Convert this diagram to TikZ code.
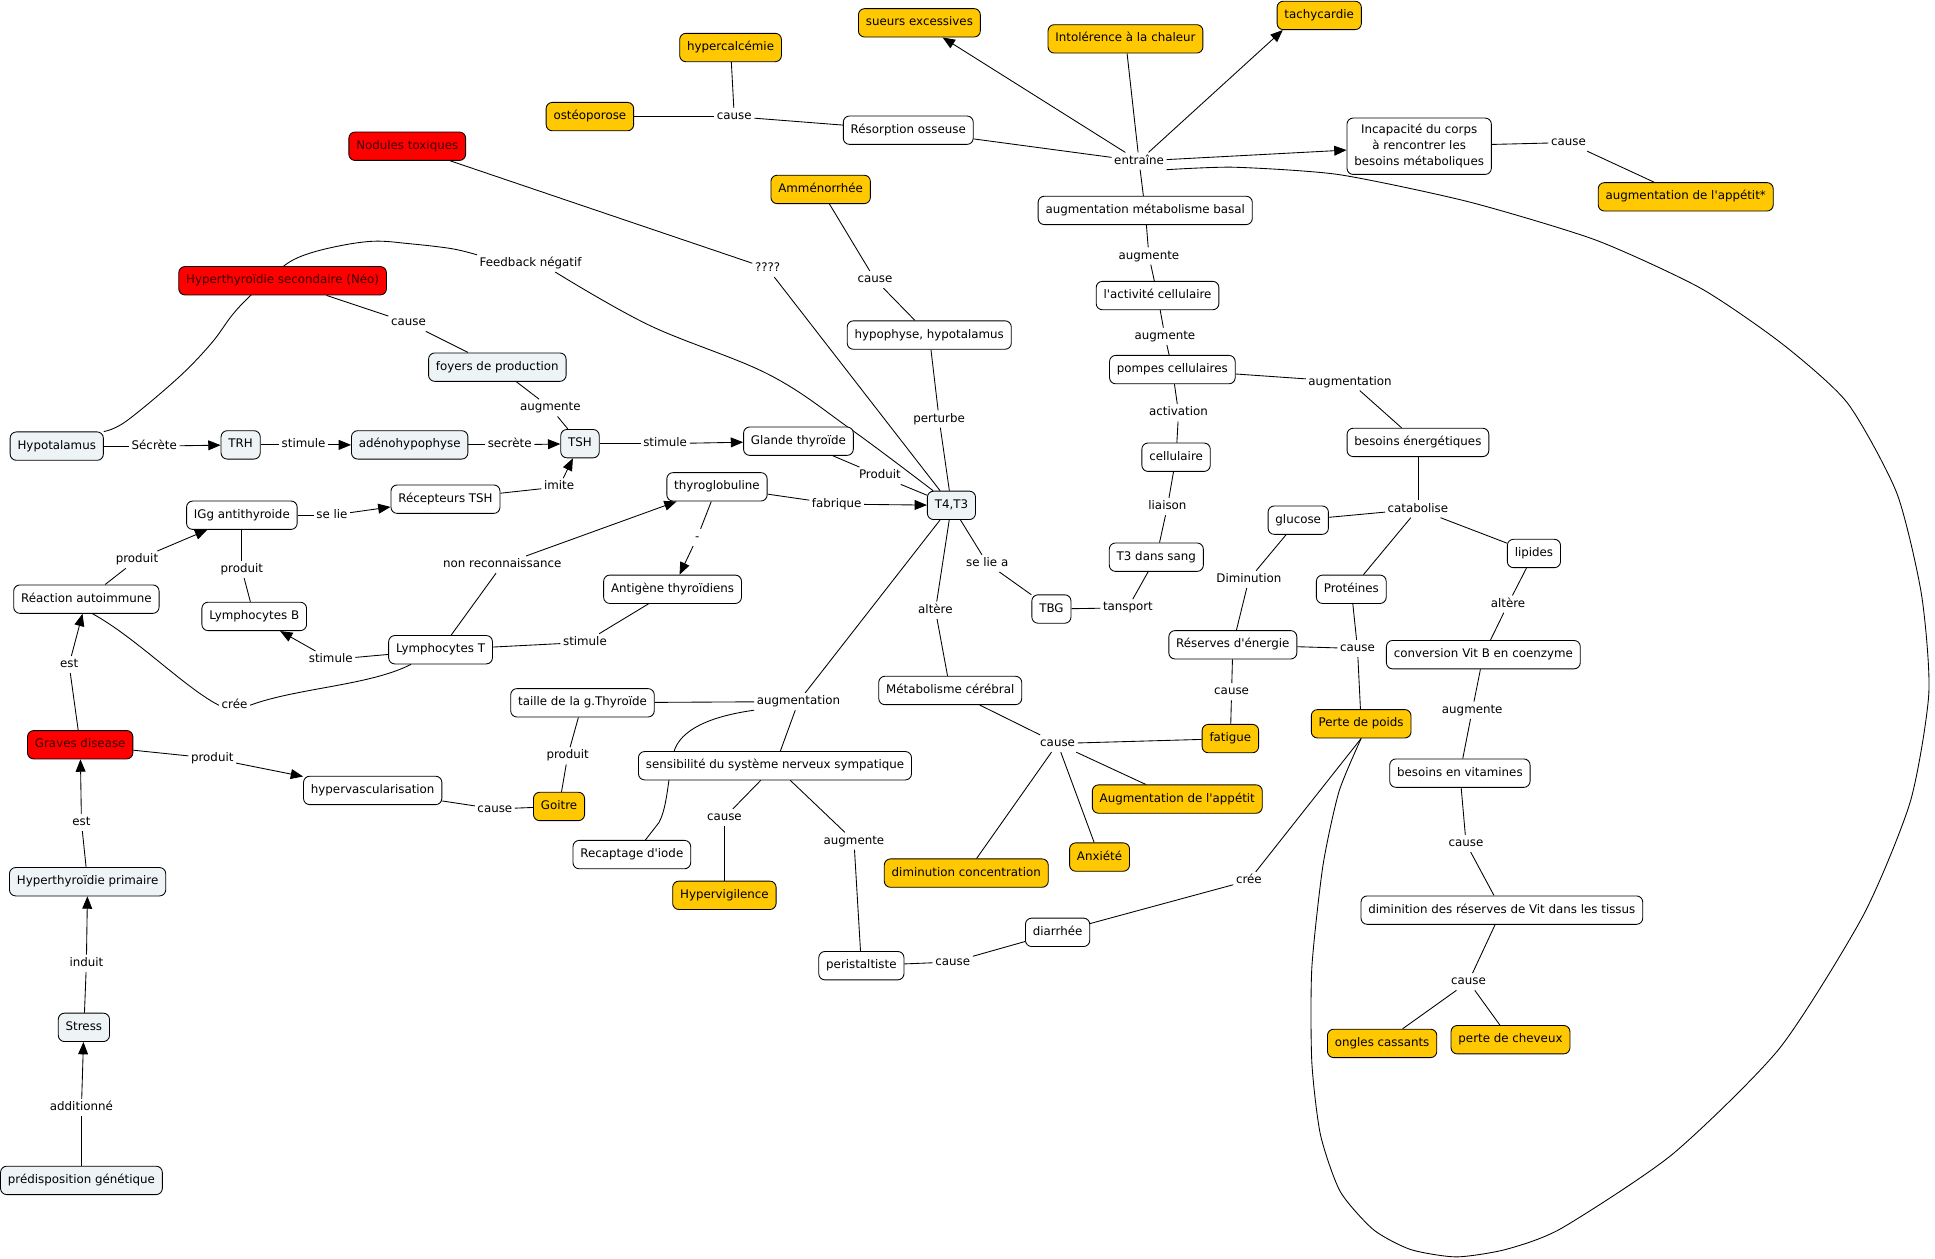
\documentclass[tikz,border=0pt]{standalone}
\usepackage{fontspec}
\setmainfont{DejaVu Sans}
\usetikzlibrary{arrows.meta}
\pgfdeclarelayer{bg}
\pgfsetlayers{bg,main}
\definecolor{lightc}{RGB}{238,244,246}
\definecolor{yel}{RGB}{255,200,0}
\definecolor{redc}{RGB}{255,0,0}
\definecolor{redt}{RGB}{60,0,0}
\newcommand\mapfont{\fontsize{9.6}{13}\selectfont}
\newcommand\ap{\textquotesingle}
\tikzset{
  base/.style={draw, rounded corners=5pt, line width=0.7pt, inner xsep=6pt, inner ysep=5pt, font=\mapfont},
  one/.style={text height=7.3pt, text depth=2.3pt, minimum height=23pt},
  wc/.style={base, one, fill=white},
  lc/.style={base, one, fill=lightc},
  yc/.style={base, one, fill=yel},
  rc/.style={base, one, fill=redc, text=redt},
  lk/.style={inner sep=2pt, font=\mapfont, text height=7.3pt, text depth=2.3pt},
  ln/.style={line width=0.7pt},
  arr/.style={line width=0.7pt, -{Triangle[length=10pt,width=8pt]}}
}
\begin{document}
\begin{tikzpicture}[x=1pt,y=-1pt]
\useasboundingbox (0,-1.5) rectangle (1568,1018.5);
% ---- nodes ----
\node[yc] (sueurs) at (745,17) {sueurs excessives};
\node[yc] (intol) at (912,30) {Intolérence à la chaleur};
\node[yc] (tachy) at (1069,11) {tachycardie};
\node[yc] (hypercal) at (592,37) {hypercalcémie};
\node[yc] (osteo) at (478,93) {ostéoporose};
\node[lk] (lcause1) at (595,93) {cause};
\node[wc] (resorp) at (736,104) {Résorption osseuse};
\node[lk] (lentr) at (923,129) {entraîne};
\node[base, fill=white, align=center] (incap) at (1150,117) {Incapacité du corps\\à rencontrer les\\besoins métaboliques};
\node[lk] (lcause2) at (1271,114) {cause};
\node[yc] (appet1) at (1366,158) {augmentation de l\ap appétit*};
\node[rc] (nodules) at (330,117) {Nodules toxiques};
\node[yc] (amen) at (665,152) {Amménorrhée};
\node[wc] (metab) at (928,169) {augmentation métabolisme basal};
\node[rc] (hsec) at (229,226) {Hyperthyroïdie secondaire (Néo)};
\node[lk] (lfeed) at (430,212) {Feedback négatif};
\node[lk] (lq) at (622,216) {????};
\node[lk] (lcause3) at (709,225) {cause};
\node[lk] (laug1) at (931,206) {augmente};
\node[wc] (activ) at (938,238) {l\ap activité cellulaire};
\node[lk] (lcause4) at (331,260) {cause};
\node[wc] (hypoph) at (753,270) {hypophyse, hypotalamus};
\node[lk] (laug2) at (944,271) {augmente};
\node[lc] (foyers) at (403,296) {foyers de production};
\node[wc] (pompes) at (950,298) {pompes cellulaires};
\node[lk] (laugm1) at (1094,308) {augmentation};
\node[lk] (laug3) at (446,329) {augmente};
\node[lk] (lactiv) at (955,333) {activation};
\node[lk] (lpert) at (761,338) {perturbe};
\node[lc] (hypot) at (46,360) {Hypotalamus};
\node[lk] (lsecr1) at (125,360) {Sécrète};
\node[lc] (trh) at (195,359) {TRH};
\node[lk] (lstim1) at (246,359) {stimule};
\node[lc] (adeno) at (332,359) {adénohypophyse};
\node[lk] (lsecr2) at (413,359) {secrète};
\node[lc] (tsh) at (470,358) {TSH};
\node[lk] (lstim2) at (539,358) {stimule};
\node[wc] (glande) at (647,356) {Glande thyroïde};
\node[wc] (besoinsE) at (1149,357) {besoins énergétiques};
\node[wc] (cellul) at (953,369) {cellulaire};
\node[lk] (lprod1) at (713,384) {Produit};
\node[wc] (thyrog) at (581,393) {thyroglobuline};
\node[lk] (limite) at (453,393) {imite};
\node[wc] (recept) at (361,403) {Récepteurs TSH};
\node[lk] (lfab) at (678,407) {fabrique};
\node[lc] (t4) at (771,408) {T4,T3};
\node[wc] (igg) at (196,416) {IGg antithyroide};
\node[lk] (lselie) at (269,416) {se lie};
\node[lk] (lliai) at (946,409) {liaison};
\node[lk] (lcata) at (1149,411) {catabolise};
\node[wc] (gluc) at (1052,420) {glucose};
\node[wc] (lipid) at (1243,447) {lipides};
\node[wc] (t3sang) at (937,450) {T3 dans sang};
\node[lk] (lseliea) at (800,455) {se lie a};
\node[lk] (lnonrec) at (407,456) {non reconnaissance};
\node[lk] (lprod2) at (196,460) {produit};
\node[wc] (antig) at (545,476) {Antigène thyroïdiens};
\node[lk] (ldash) at (565,434) {-};
\node[lk] (ldimin) at (1012,468) {Diminution};
\node[wc] (prot) at (1095,476) {Protéines};
\node[lk] (lprod3) at (111,452) {produit};
\node[wc] (reac) at (70,484) {Réaction autoimmune};
\node[lk] (lalt1) at (1222,488) {altère};
\node[wc] (tbg) at (852,492) {TBG};
\node[lk] (ltransp) at (914,491) {tansport};
\node[lk] (lalt2) at (758,493) {altère};
\node[wc] (lymB) at (206,498) {Lymphocytes B};
\node[lk] (lstim3) at (474,519) {stimule};
\node[wc] (reserv) at (999,521) {Réserves d\ap énergie};
\node[lk] (lcause5) at (1100,524) {cause};
\node[wc] (conv) at (1202,529) {conversion Vit B en coenzyme};
\node[wc] (lymT) at (357,525) {Lymphocytes T};
\node[lk] (lstim4) at (268,533) {stimule};
\node[lk] (lest1) at (56,537) {est};
\node[wc] (cereb) at (770,558) {Métabolisme cérébral};
\node[lk] (lcause6) at (998,559) {cause};
\node[wc] (taille) at (472,568) {taille de la g.Thyroïde};
\node[lk] (laugm2) at (647,567) {augmentation};
\node[lk] (lcree1) at (190,570) {crée};
\node[lk] (laug4) at (1193,574) {augmente};
\node[yc] (perte) at (1103,585) {Perte de poids};
\node[yc] (fatig) at (997,597) {fatigue};
\node[rc] (graves) at (65,602) {Graves disease};
\node[lk] (lcause7) at (857,601) {cause};
\node[lk] (lprod4) at (172,613) {produit};
\node[lk] (lprod5) at (460,611) {produit};
\node[wc] (sensib) at (628,619) {sensibilité du système nerveux sympatique};
\node[wc] (besoinsV) at (1183,625) {besoins en vitamines};
\node[wc] (hyperv) at (302,639) {hypervascularisation};
\node[yc] (appet2) at (954,646) {Augmentation de l\ap appétit};
\node[yc] (goitre) at (453,652) {Goitre};
\node[lk] (lcause8) at (401,654) {cause};
\node[lk] (lcause9) at (587,661) {cause};
\node[lk] (lest2) at (66,665) {est};
\node[lk] (laug5) at (692,680) {augmente};
\node[lk] (lcause10) at (1188,682) {cause};
\node[wc] (recap) at (512,691) {Recaptage d\ap iode};
\node[yc] (anx) at (891,693) {Anxiété};
\node[yc] (dimconc) at (783,706) {diminution concentration};
\node[lc] (hprim) at (71,713) {Hyperthyroïdie primaire};
\node[lk] (lcree2) at (1012,712) {crée};
\node[yc] (hypervig) at (587,724) {Hypervigilence};
\node[wc] (dimres) at (1217,736) {diminition des réserves de Vit dans les tissus};
\node[wc] (diarr) at (857,754) {diarrhée};
\node[wc] (perist) at (698,781) {peristaltiste};
\node[lk] (lcause11) at (772,778) {cause};
\node[lk] (linduit) at (70,779) {induit};
\node[lk] (lcause12) at (1190,794) {cause};
\node[lc] (stress) at (68,831) {Stress};
\node[yc] (cheveux) at (1224,841) {perte de cheveux};
\node[yc] (ongles) at (1120,844) {ongles cassants};
\node[lk] (ladd) at (66,896) {additionné};
\node[lc] (predis) at (66,955) {prédisposition génétique};
% ---- connectors ----
\begin{pgfonlayer}{bg}
\draw[ln] (osteo) -- (lcause1);
\draw[ln] (hypercal) -- (lcause1);
\draw[ln] (resorp) -- (lcause1);
\draw[ln] (resorp) -- (lentr);
\draw[arr] (lentr) -- (sueurs);
\draw[ln] (intol) -- (lentr);
\draw[arr] (lentr) -- ([xshift=5pt]tachy.south west);
\draw[arr] (lentr) -- (incap);
\draw[ln] (metab) -- (lentr);
\draw[ln] (incap) -- (lcause2);
\draw[ln] (lcause2) -- (appet1);
\draw[ln] (nodules) -- (lq);
\draw[ln] (lq) -- (t4);
\draw[ln] (amen) -- (lcause3);
\draw[ln] (lcause3) -- (hypoph);
\draw[ln] (hypoph) -- (lpert);
\draw[ln] (lpert) -- (t4);
\draw[ln] (metab) -- (laug1);
\draw[ln] (laug1) -- (activ);
\draw[ln] (activ) -- (laug2);
\draw[ln] (laug2) -- (pompes);
\draw[ln] (pompes) -- (laugm1);
\draw[ln] (laugm1) -- (besoinsE);
\draw[ln] (pompes) -- (lactiv);
\draw[ln] (lactiv) -- (cellul);
\draw[ln] (cellul) -- (lliai);
\draw[ln] (lliai) -- (t3sang);
\draw[ln] (t3sang) -- (ltransp);
\draw[ln] (ltransp) -- (tbg);
\draw[ln] (t4) -- (lseliea);
\draw[ln] (lseliea) -- (tbg);
\draw[ln] (t4) -- (lalt2);
\draw[ln] (lalt2) -- (cereb);
\draw[ln] (t4) -- (laugm2);
\draw[ln] (laugm2) -- (sensib);
\draw[ln] (laugm2) -- (taille);
\draw[ln] (laugm2.south west) .. controls (575,579) and (551,590) .. (546,608)
  .. controls (541,630) and (541,652) .. (534,665) -- ([xshift=11pt]recap.north);
\draw[ln] (thyrog) -- (lfab);
\draw[arr] (lfab) -- (t4);
\draw[ln] (glande) -- (lprod1);
\draw[ln] (lprod1) -- (t4);
\draw[ln] (tsh) -- (lstim2);
\draw[arr] (lstim2) -- (glande);
\draw[ln] (thyrog) -- (ldash);
\draw[arr] (ldash) -- (antig);
\draw[ln] (lymT) -- (lnonrec);
\draw[arr] (lnonrec) -- (thyrog);
\draw[ln] (lymT) -- (lstim3);
\draw[ln] (lstim3) -- (antig);
\draw[ln] (lymT) -- (lstim4);
\draw[arr] (lstim4) -- (lymB);
\draw[ln] ([xshift=-24pt]lymT.south) .. controls (300,554) and (240,556) .. (lcree1.east);
\draw[ln] (lcree1.west) .. controls (150,556) and (110,515) .. ([xshift=5pt]reac.south);
\draw[ln] (reac) -- (lprod3);
\draw[arr] (lprod3) -- (igg);
\draw[ln] (igg) -- (lselie);
\draw[arr] (lselie) -- (recept);
\draw[ln] (igg) -- (lprod2);
\draw[ln] (lprod2) -- (lymB);
\draw[ln] (recept) -- (limite);
\draw[arr] (limite) -- (tsh);
\draw[ln] (graves) -- (lest1);
\draw[arr] (lest1) -- (reac);
\draw[ln] (graves) -- (lprod4);
\draw[arr] (lprod4) -- (hyperv);
\draw[ln] (hyperv) -- (lcause8);
\draw[ln] (lcause8) -- (goitre);
\draw[ln] (taille) -- (lprod5);
\draw[ln] (lprod5) -- (goitre);
\draw[ln] (hprim) -- (lest2);
\draw[arr] (lest2) -- (graves);
\draw[ln] (stress) -- (linduit);
\draw[arr] (linduit) -- (hprim);
\draw[ln] (predis) -- (ladd);
\draw[arr] (ladd) -- (stress);
\draw[ln] (hypot) -- (lsecr1);
\draw[arr] (lsecr1) -- (trh);
\draw[ln] (trh) -- (lstim1);
\draw[arr] (lstim1) -- (adeno);
\draw[ln] (adeno) -- (lsecr2);
\draw[arr] (lsecr2) -- (tsh);
\draw[ln] plot[smooth, tension=0.6] coordinates {([xshift=5pt]t4.north west) (689,346) (623,302) (526,262) ([xshift=20pt]lfeed.south)};
\draw[ln] plot[smooth, tension=0.6] coordinates {(lfeed.north west) (366,200) (332,196) (302,194) (269,199) (242,207) (225,218) (202,239) (188,254) (171,277) (144,305) (102,340) (hypot.north east)};
\draw[ln] (hsec) -- (lcause4);
\draw[ln] (lcause4) -- (foyers);
\draw[ln] (foyers) -- (laug3);
\draw[ln] (laug3) -- (tsh);
\draw[ln] (besoinsE) -- (lcata);
\draw[ln] (lcata) -- (gluc);
\draw[ln] (lcata) -- (prot);
\draw[ln] (lcata) -- (lipid);
\draw[ln] (gluc) -- (ldimin);
\draw[ln] (ldimin) -- (reserv);
\draw[ln] (prot) -- (lcause5);
\draw[ln] (lcause5) -- (perte);
\draw[ln] (reserv) -- (lcause5);
\draw[ln] (reserv) -- (lcause6);
\draw[ln] (lcause6) -- (fatig);
\draw[ln] (lipid) -- (lalt1);
\draw[ln] (lalt1) -- (conv);
\draw[ln] (conv) -- (laug4);
\draw[ln] (laug4) -- (besoinsV);
\draw[ln] (besoinsV) -- (lcause10);
\draw[ln] (lcause10) -- (dimres);
\draw[ln] (dimres) -- (lcause12);
\draw[ln] (lcause12) -- (ongles);
\draw[ln] (lcause12) -- (cheveux);
\draw[ln] (cereb) -- (lcause7);
\draw[ln] (lcause7) -- (fatig);
\draw[ln] (lcause7) -- (appet2);
\draw[ln] (lcause7) -- (anx);
\draw[ln] (lcause7) -- (dimconc);
\draw[ln] (sensib) -- (lcause9);
\draw[ln] (lcause9) -- (hypervig);
\draw[ln] (sensib) -- (laug5);
\draw[ln] (laug5) -- (perist);
\draw[ln] (perist) -- (lcause11);
\draw[ln] (lcause11) -- (diarr);
\draw[ln] (perte.south) -- (lcree2);
\draw[ln] (lcree2) -- (diarr);
\draw[ln] plot[smooth, tension=0.4] coordinates {(lentr.south east) (1000,134) (1085,140) (1190,162) (1293,193) (1378,232) (1444,277) (1497,325) (1537,398) (1557,480) (1563,560) (1548,648) (1510,740) (1442,848) (1355,934) (1265,994) (1220,1011) (1180,1017) (1143,1011) (1113,995) (1086,964) (1070,918) (1063,859) (1063,783) (1072,700) (1085,640) (perte.south)};
\end{pgfonlayer}
\end{tikzpicture}
\end{document}
